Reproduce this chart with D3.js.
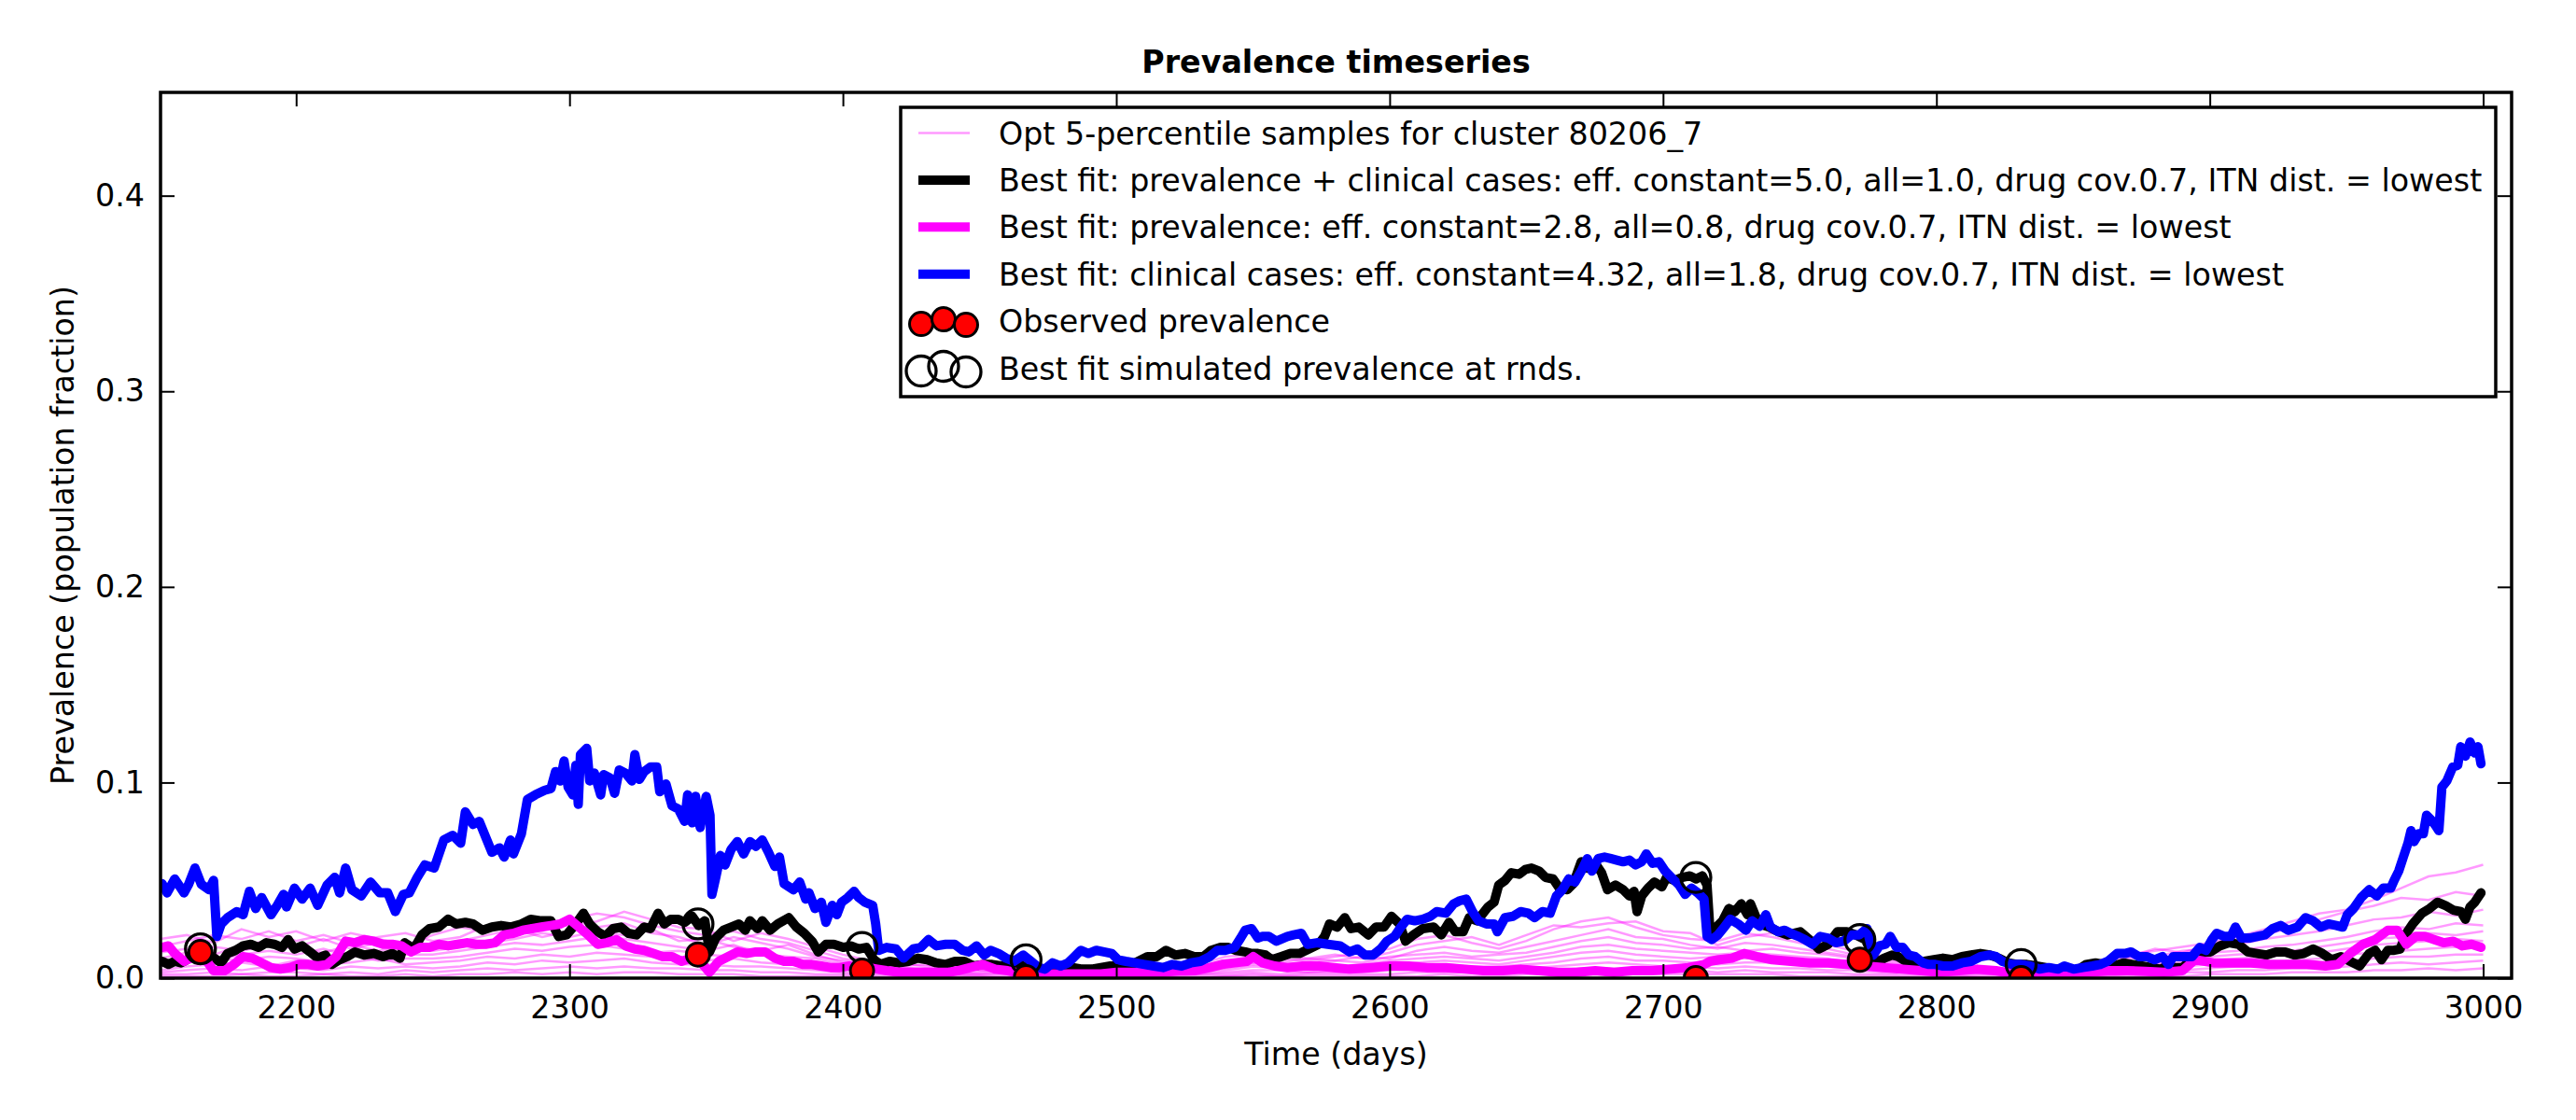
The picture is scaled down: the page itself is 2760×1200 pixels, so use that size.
<!DOCTYPE html>
<html>
<head>
<meta charset="UTF-8">
<title>Prevalence timeseries</title>
<script src="https://d3js.org/d3.v7.min.js"></script>
<style>
  body { margin: 0; background: #fff; }
  text { font-family: "DejaVu Sans", sans-serif; }
</style>
</head>
<body>
<svg id="chart" width="2760" height="1200"></svg>
<script>
// ---- data ----
// best fit: clinical cases (blue)
const clinicalFit = [[2151,0.0483],[2152.8,0.0436],[2155.6,0.0507],[2159,0.0436],[2160.7,0.048],[2163,0.0563],[2165.3,0.048],[2168.1,0.0452],[2169.8,0.05],[2171,0.0213],[2172.6,0.0277],[2174.9,0.0309],[2178.3,0.034],[2180.6,0.0324],[2182.9,0.0444],[2185.2,0.0356],[2187.4,0.0412],[2190.8,0.0324],[2193.1,0.0372],[2195.4,0.0428],[2196.5,0.0364],[2199.4,0.046],[2202.2,0.0404],[2205.1,0.046],[2207.9,0.0372],[2211.3,0.0476],[2214.1,0.0515],[2215.9,0.0436],[2218.1,0.0563],[2220.4,0.0452],[2223.8,0.042],[2227.2,0.0491],[2230.6,0.0436],[2233.5,0.0436],[2236.3,0.034],[2239.2,0.0428],[2241.4,0.0436],[2244.3,0.0515],[2247.1,0.0579],[2250.5,0.0563],[2254,0.0706],[2257.3,0.073],[2260.2,0.069],[2261.9,0.085],[2264.7,0.0786],[2267,0.0801],[2269.3,0.0722],[2271.6,0.0643],[2274.4,0.0666],[2276.1,0.0619],[2278.4,0.0706],[2279.5,0.0635],[2282.4,0.0738],[2284.6,0.0913],[2287.5,0.0937],[2290.9,0.096],[2293.2,0.0969],[2294.9,0.1056],[2296.6,0.1008],[2298,0.111],[2299.5,0.0976],[2301.2,0.0937],[2302.3,0.1088],[2303.2,0.0889],[2304,0.1143],[2306.3,0.1175],[2307.4,0.1008],[2309.1,0.1048],[2311.4,0.0937],[2312.5,0.104],[2314.8,0.1024],[2316.5,0.0945],[2318.2,0.1064],[2320.5,0.1048],[2322.8,0.1008],[2323.9,0.1143],[2325.6,0.1016],[2327.3,0.1056],[2329.6,0.108],[2331.9,0.108],[2333,0.0953],[2335.3,0.0992],[2337.5,0.0881],[2339.8,0.0865],[2342.1,0.0802],[2343.2,0.0937],[2344.9,0.0794],[2346.1,0.0929],[2347.8,0.077],[2350,0.0929],[2351.4,0.0833],[2352.1,0.0428],[2353.5,0.0515],[2355.2,0.0627],[2356.9,0.0579],[2359.1,0.0658],[2361.4,0.0698],[2363.7,0.0635],[2366,0.0698],[2368.2,0.0674],[2370.5,0.0706],[2372.8,0.0643],[2375.1,0.0571],[2376.8,0.0619],[2378.5,0.0483],[2381.9,0.0452],[2384.2,0.0491],[2386.4,0.0404],[2387.6,0.0436],[2389.8,0.0356],[2392.1,0.0388],[2393.8,0.0285],[2396.1,0.0372],[2397.8,0.0324],[2399.5,0.0388],[2401.8,0.0412],[2404.1,0.0444],[2405.8,0.0412],[2408,0.0388],[2410.9,0.0372],[2412,0.0277],[2413.1,0.0142],[2416,0.0157],[2419.4,0.0149],[2422.2,0.0102],[2425.7,0.0149],[2428.5,0.0157],[2431.3,0.0197],[2434.2,0.0165],[2437.6,0.0173],[2440.9,0.0173],[2443.8,0.0142],[2446.1,0.0134],[2448.9,0.0165],[2451.7,0.0118],[2454,0.0142],[2456.9,0.0126],[2459.7,0.0102],[2462.5,0.0086],[2466,0.0118],[2468.8,0.0086],[2471.6,0.0054],[2473.9,0.0046],[2476.7,0.0078],[2479.6,0.0062],[2482.4,0.0078],[2484.7,0.011],[2487,0.0142],[2489.8,0.0126],[2492.7,0.0142],[2495.5,0.0134],[2498.4,0.0126],[2500.6,0.0094],[2503.5,0.0086],[2506.9,0.0078],[2510.3,0.007],[2513.7,0.0062],[2517.1,0.0054],[2520.5,0.007],[2523.9,0.0062],[2527.3,0.0078],[2530.8,0.0086],[2534.2,0.011],[2537,0.0142],[2539.8,0.0142],[2543.3,0.0157],[2545.5,0.0205],[2547.2,0.0245],[2549.5,0.0253],[2551.8,0.0205],[2553.5,0.0213],[2555.8,0.0213],[2558.6,0.0189],[2562.6,0.0213],[2564.9,0.0221],[2567.7,0.0229],[2570,0.0173],[2573.4,0.0181],[2577.4,0.0173],[2581.9,0.0165],[2585.3,0.0134],[2588.2,0.0149],[2591,0.0118],[2593.9,0.0118],[2596.7,0.0149],[2599,0.0189],[2601.8,0.0213],[2604.1,0.0261],[2606.4,0.0301],[2609.2,0.0293],[2612.1,0.0301],[2614.9,0.0316],[2617.2,0.034],[2620.6,0.0332],[2623.4,0.038],[2625.7,0.0396],[2628,0.0404],[2630.3,0.034],[2632.5,0.0293],[2635.4,0.0277],[2638.2,0.0277],[2639.4,0.0237],[2642.2,0.0309],[2645.1,0.0316],[2647.9,0.034],[2650.7,0.0332],[2653,0.0309],[2655.9,0.034],[2658.7,0.0332],[2661,0.042],[2663.2,0.0452],[2665.5,0.0507],[2667.8,0.0491],[2670.1,0.0547],[2672.3,0.0611],[2674,0.0547],[2676.3,0.0611],[2678.6,0.0619],[2680.9,0.0611],[2683.1,0.0603],[2685.4,0.0595],[2687.7,0.0603],[2690,0.0579],[2692.2,0.0595],[2693.9,0.0635],[2696.2,0.0587],[2698.5,0.0595],[2700.8,0.0547],[2703.6,0.0507],[2705.9,0.0476],[2708.1,0.0428],[2710.4,0.046],[2712.7,0.0436],[2715,0.0404],[2716.1,0.0213],[2717.8,0.0197],[2720.1,0.0221],[2722.4,0.0261],[2724.6,0.0301],[2727.5,0.0277],[2730.3,0.0245],[2732.6,0.0293],[2735.4,0.0265],[2737.6,0.0324],[2739.3,0.0261],[2742.2,0.0237],[2744.5,0.0245],[2746.7,0.0229],[2749.6,0.0213],[2751.9,0.0197],[2754.7,0.0173],[2757.5,0.0213],[2760.4,0.0205],[2763.2,0.0181],[2766.1,0.0189],[2768.9,0.0221],[2771.8,0.0221],[2774.6,0.0253],[2776.9,0.0118],[2779.1,0.0165],[2781.4,0.0173],[2783.1,0.0213],[2785.4,0.0157],[2787.7,0.0157],[2789.9,0.0118],[2792.2,0.011],[2795.1,0.0078],[2797.3,0.007],[2799.6,0.007],[2802.4,0.0062],[2805.9,0.0062],[2809.3,0.0078],[2812.7,0.0086],[2816.1,0.011],[2819.5,0.0118],[2821.8,0.011],[2824.1,0.0086],[2827.5,0.007],[2830.9,0.007],[2834.3,0.0062],[2837.7,0.0046],[2841.1,0.0054],[2844.5,0.0046],[2846.8,0.0062],[2850.2,0.0046],[2853.6,0.0054],[2857,0.0062],[2859.9,0.007],[2862.7,0.0086],[2866.1,0.0126],[2869,0.0126],[2871.2,0.0134],[2874.1,0.011],[2876.9,0.011],[2879.8,0.0094],[2882.7,0.011],[2884.9,0.007],[2886.6,0.011],[2890,0.011],[2893.5,0.011],[2896.3,0.0157],[2898.6,0.0142],[2900.8,0.0197],[2902.5,0.0229],[2905.4,0.0213],[2907.7,0.0213],[2909.4,0.0261],[2911.6,0.0205],[2914.5,0.0205],[2917.3,0.0213],[2920.2,0.0221],[2923,0.0253],[2925.9,0.0269],[2928.7,0.0245],[2932.1,0.0261],[2935,0.0309],[2937.8,0.0293],[2940.6,0.0261],[2943.5,0.0277],[2946.3,0.0269],[2948.6,0.0261],[2950.3,0.0324],[2952.6,0.0356],[2955.4,0.0412],[2958.3,0.0452],[2961.1,0.042],[2963.4,0.046],[2966.2,0.046],[2967.4,0.0499],[2969.1,0.0547],[2970.8,0.0619],[2972.5,0.069],[2973.6,0.0754],[2974.7,0.0698],[2976.4,0.0738],[2978.1,0.0738],[2979.3,0.0833],[2981,0.0809],[2982.7,0.0778],[2983.8,0.0754],[2984.9,0.0976],[2986.7,0.1008],[2988.9,0.108],[2990.7,0.1088],[2991.8,0.1183],[2993.5,0.1135],[2995.2,0.1207],[2996.9,0.1151],[2998.1,0.1183],[2999.2,0.1096]];

// best fit: prevalence + clinical cases (black)
const combinedFit = [[2151,0.0086],[2153.3,0.007],[2155.6,0.0086],[2157.9,0.0078],[2160.1,0.0094],[2162.4,0.0118],[2165.3,0.0126],[2169.2,0.011],[2172.6,0.0078],[2174.9,0.0126],[2177.8,0.0142],[2180.6,0.0165],[2183.4,0.0173],[2186.3,0.0157],[2189.1,0.0181],[2192,0.0173],[2194.8,0.0157],[2197.1,0.0197],[2199.4,0.0149],[2202.2,0.0165],[2205.1,0.0134],[2207.9,0.0102],[2210.7,0.0118],[2213,0.007],[2215.9,0.0094],[2218.7,0.011],[2221.5,0.0134],[2224.9,0.0118],[2228.4,0.0126],[2231.8,0.011],[2235.2,0.0126],[2238,0.0102],[2239.7,0.0181],[2243.1,0.0149],[2246,0.0221],[2248.8,0.0253],[2252.2,0.0261],[2255.6,0.0301],[2258.5,0.0277],[2261.9,0.0285],[2264.7,0.0277],[2268.1,0.0245],[2271.6,0.0261],[2275,0.0269],[2278.4,0.0261],[2282.4,0.0277],[2285.8,0.0301],[2289.7,0.0293],[2293.2,0.0293],[2296,0.0213],[2298.9,0.0221],[2302.3,0.0277],[2305.1,0.0332],[2307.4,0.0277],[2310.3,0.0237],[2313.1,0.0213],[2315.9,0.0253],[2318.8,0.0261],[2321.6,0.0229],[2324.5,0.0221],[2327.3,0.0261],[2329.6,0.0253],[2332.4,0.0332],[2334.7,0.0277],[2337,0.0301],[2339.8,0.0301],[2342.1,0.0285],[2344.9,0.0316],[2347.2,0.0269],[2349.5,0.0293],[2351.2,0.0134],[2353.5,0.0205],[2356.3,0.0245],[2359.1,0.0261],[2362,0.0277],[2364.3,0.0245],[2366,0.0293],[2368.8,0.0253],[2370.5,0.0293],[2373.4,0.0245],[2376.2,0.0277],[2380.2,0.0309],[2383,0.0261],[2385.9,0.0229],[2388.7,0.0189],[2391,0.0134],[2393.8,0.0173],[2396.7,0.0173],[2400.1,0.0157],[2402.9,0.0165],[2405.8,0.0149],[2408.6,0.0157],[2411.4,0.0094],[2413.7,0.007],[2417.1,0.0086],[2420.5,0.0078],[2424,0.0086],[2427.4,0.0102],[2430.8,0.0094],[2434.2,0.0078],[2437.6,0.007],[2441,0.0086],[2444.4,0.0086],[2447.8,0.0062],[2451.2,0.007],[2454.6,0.007],[2458,0.0062],[2461.4,0.007],[2466,0.0062],[2470.5,0.0046],[2475,0.0038],[2479.6,0.0046],[2484.1,0.0054],[2487.5,0.0046],[2491,0.0046],[2494.4,0.0054],[2497.8,0.0062],[2501.2,0.0062],[2504.6,0.0062],[2508,0.0086],[2511.4,0.011],[2514.8,0.011],[2518.2,0.0142],[2521.7,0.0118],[2525.1,0.0126],[2528.5,0.011],[2531.9,0.011],[2534.7,0.0142],[2538.1,0.0157],[2541,0.0157],[2543.8,0.0142],[2547.2,0.0134],[2549.5,0.0126],[2551.8,0.0126],[2554.6,0.0118],[2556.9,0.0094],[2560.3,0.011],[2563.7,0.0126],[2567.1,0.0126],[2570.5,0.0149],[2574,0.0173],[2576.2,0.0213],[2578,0.0277],[2580.8,0.0261],[2583.6,0.0309],[2585.9,0.0253],[2588.7,0.0261],[2592.2,0.0221],[2595,0.0261],[2597.9,0.0261],[2600.7,0.0316],[2603.6,0.0277],[2605.8,0.0189],[2608.7,0.0221],[2612.1,0.0253],[2616.1,0.0261],[2618.9,0.0221],[2621.7,0.0285],[2624,0.0237],[2626.9,0.0237],[2629.1,0.0309],[2632,0.0293],[2636,0.0364],[2638.2,0.0388],[2639.9,0.0476],[2642.2,0.0499],[2644.5,0.0539],[2647.3,0.0531],[2649.6,0.0555],[2651.9,0.0563],[2654.7,0.0547],[2657,0.0515],[2659.8,0.0507],[2662.1,0.046],[2665,0.0452],[2667.2,0.0483],[2670.1,0.0595],[2672.3,0.0563],[2675.2,0.0587],[2677.5,0.0539],[2679.7,0.0452],[2682.6,0.0476],[2685.4,0.0452],[2687.7,0.042],[2689.4,0.0444],[2690.5,0.034],[2692.2,0.042],[2694.5,0.046],[2696.8,0.0491],[2699.6,0.0467],[2701.3,0.0515],[2704.2,0.0499],[2707,0.0515],[2709.8,0.0523],[2712.1,0.0507],[2714.4,0.0523],[2716.1,0.0476],[2717.2,0.0237],[2719.5,0.0261],[2721.8,0.0293],[2724.1,0.0356],[2726.3,0.034],[2728.6,0.038],[2730.9,0.0324],[2732,0.038],[2734.3,0.0301],[2735.4,0.0277],[2738.8,0.0261],[2742.2,0.0237],[2745.6,0.0221],[2750.2,0.0237],[2753.6,0.0197],[2757,0.0149],[2760.4,0.0173],[2763.8,0.0237],[2767.2,0.0237],[2770.6,0.0221],[2774,0.0197],[2778,0.0078],[2780.9,0.0102],[2783.7,0.0118],[2786,0.011],[2788.8,0.0086],[2792.2,0.007],[2795.6,0.0086],[2799.1,0.0094],[2802.4,0.0102],[2805.9,0.0094],[2809.3,0.011],[2812.7,0.0118],[2816.1,0.0126],[2819.5,0.0118],[2822.9,0.0102],[2826.3,0.0078],[2829.7,0.007],[2833.1,0.007],[2836.6,0.0062],[2840,0.0054],[2843.4,0.0046],[2846.8,0.0046],[2851.3,0.0038],[2854.7,0.007],[2858.2,0.0078],[2861.6,0.007],[2865,0.0062],[2868.4,0.0078],[2871.8,0.007],[2875.2,0.0062],[2878.6,0.0054],[2882,0.0046],[2883.2,0.0054],[2886.6,0.0054],[2890,0.0054],[2893.5,0.0094],[2896.9,0.0134],[2900.3,0.0134],[2903.7,0.0165],[2907.1,0.0181],[2910.5,0.0173],[2913.9,0.0134],[2917.3,0.0126],[2920.7,0.0118],[2924.2,0.0134],[2927.6,0.0134],[2931,0.0118],[2934.4,0.0126],[2937.8,0.0149],[2941.2,0.0126],[2944.6,0.0094],[2948,0.011],[2951.4,0.0086],[2954.8,0.0062],[2956.5,0.0094],[2958.3,0.0126],[2960.5,0.0142],[2962.8,0.0094],[2965.1,0.0142],[2967.4,0.0142],[2969.6,0.0149],[2971.9,0.0229],[2974.2,0.0277],[2977.6,0.0332],[2980.4,0.0356],[2983.3,0.0388],[2986.1,0.0372],[2989,0.0348],[2991.8,0.034],[2993.5,0.0301],[2995.2,0.0364],[2996.9,0.0388],[2999.2,0.0436]];

// best fit: prevalence (magenta)
const prevalenceFit = [[2151,0.0157],[2153.3,0.0165],[2155.6,0.0126],[2159,0.0086],[2162.4,0.011],[2167,0.0094],[2169.8,0.0038],[2173.8,0.0038],[2177.2,0.007],[2180.6,0.011],[2184,0.0102],[2187.4,0.0078],[2190.8,0.0054],[2194.2,0.0046],[2197.7,0.0054],[2201.1,0.007],[2204.5,0.007],[2207.9,0.0062],[2211.3,0.007],[2214.7,0.011],[2218.1,0.0189],[2221.5,0.0181],[2224.9,0.0197],[2228.4,0.0189],[2231.8,0.0173],[2235.2,0.0173],[2238.6,0.0165],[2242,0.0134],[2245.4,0.0157],[2248.8,0.0157],[2252.2,0.0173],[2255.6,0.0165],[2259,0.0173],[2262.5,0.0181],[2265.9,0.0173],[2269.3,0.0173],[2272.7,0.0181],[2276.1,0.0221],[2279.5,0.0229],[2282.9,0.0245],[2286.3,0.0253],[2289.7,0.0261],[2293.2,0.0269],[2296.6,0.0277],[2300,0.0301],[2303.4,0.0261],[2306.8,0.0221],[2310.3,0.0173],[2313.7,0.0181],[2317.1,0.0197],[2320.5,0.0165],[2323.9,0.0149],[2327.3,0.0142],[2330.7,0.0126],[2334.1,0.011],[2337.5,0.011],[2341,0.0086],[2344.4,0.0102],[2347.8,0.0086],[2351.2,0.003],[2354.6,0.0086],[2358,0.011],[2361.4,0.0134],[2364.8,0.0126],[2368.2,0.0134],[2371.6,0.0134],[2375.1,0.0102],[2378.5,0.0086],[2381.9,0.0086],[2385.3,0.007],[2388.7,0.007],[2392.1,0.0062],[2395.5,0.0054],[2398.9,0.0054],[2402.3,0.0062],[2405.8,0.0054],[2409.2,0.0054],[2412.6,0.0046],[2416,0.0038],[2420.5,0.003],[2425.1,0.003],[2429.6,0.003],[2434.2,0.003],[2438.7,0.003],[2442,0.0038],[2446.6,0.0054],[2451.2,0.007],[2455.7,0.0046],[2460.3,0.0038],[2466,0.0022],[2471.6,0.0022],[2477.3,0.0022],[2483,0.0022],[2488.7,0.0022],[2494.4,0.0022],[2500.1,0.003],[2505.7,0.003],[2511.4,0.003],[2517.1,0.003],[2522.8,0.0038],[2528.5,0.0038],[2534.2,0.0054],[2538.7,0.007],[2543.3,0.0078],[2547.8,0.0086],[2550.1,0.011],[2553.5,0.0078],[2558,0.0062],[2562.6,0.0054],[2568.3,0.0062],[2574,0.0062],[2579.6,0.0054],[2585.3,0.0046],[2593.3,0.0054],[2600.1,0.0062],[2607,0.0062],[2613.8,0.0054],[2620.6,0.0054],[2627.4,0.0046],[2634.3,0.0038],[2641.1,0.0038],[2647.9,0.0046],[2654.7,0.0038],[2661.5,0.003],[2668.4,0.003],[2675.2,0.0038],[2682,0.003],[2688.8,0.0038],[2695.6,0.0038],[2702.5,0.0046],[2709.3,0.0054],[2715,0.007],[2717.2,0.0086],[2720.6,0.0094],[2725.2,0.0102],[2729.7,0.0126],[2734.3,0.011],[2739.9,0.0094],[2746.7,0.0086],[2753.6,0.0078],[2760.4,0.0078],[2767.2,0.007],[2774,0.0062],[2780.9,0.0054],[2787.7,0.0046],[2794.5,0.0038],[2801.3,0.003],[2808.1,0.0038],[2815,0.0046],[2821.8,0.0038],[2828.6,0.0022],[2835.4,0.0022],[2842.2,0.0022],[2849.1,0.0022],[2855.9,0.003],[2862.7,0.0038],[2869.5,0.0038],[2876.4,0.0035],[2883.2,0.003],[2890,0.0038],[2894.6,0.0094],[2901.4,0.0078],[2908.2,0.0078],[2915.1,0.0078],[2921.9,0.007],[2928.7,0.007],[2935.5,0.007],[2942.3,0.0062],[2946.9,0.007],[2951.4,0.0126],[2956,0.0173],[2960.5,0.0197],[2965.1,0.0245],[2968.5,0.0245],[2971.9,0.0173],[2975.3,0.0213],[2978.7,0.0213],[2982.1,0.0197],[2985.5,0.0181],[2989,0.0189],[2992.4,0.0165],[2995.8,0.0173],[2999.2,0.0157]];

// opt 5-percentile samples, every 10 days from 2150 to 3000
const sampleDays = d3.range(2150, 3001, 10);
const samples = [
  [0.020,0.022,0.018,0.025,0.021,0.024,0.019,0.023,0.020,0.017, 0.022,0.026,0.024,0.028,0.025,0.030,0.033,0.031,0.027,0.024, 0.022,0.024,0.020,0.018,0.014,0.010,0.008,0.006,0.007,0.005, 0.006,0.004,0.005,0.003,0.004,0.005,0.004,0.006,0.007,0.011, 0.012,0.010,0.009,0.011,0.013,0.015,0.020,0.022,0.018,0.015, 0.019,0.025,0.029,0.031,0.026,0.022,0.020,0.019,0.023,0.021, 0.018,0.015,0.012,0.010,0.008,0.006,0.005,0.004,0.004,0.003, 0.005,0.008,0.012,0.014,0.016,0.018,0.021,0.025,0.029,0.033, 0.035,0.040,0.046,0.052,0.054,0.058],
  [0.016,0.019,0.022,0.020,0.024,0.019,0.022,0.018,0.021,0.023, 0.019,0.021,0.027,0.022,0.026,0.027,0.029,0.034,0.030,0.026, 0.025,0.019,0.023,0.020,0.016,0.012,0.009,0.008,0.006,0.007, 0.005,0.006,0.004,0.005,0.003,0.004,0.006,0.005,0.006,0.008, 0.010,0.012,0.010,0.012,0.010,0.013,0.017,0.019,0.021,0.017, 0.022,0.027,0.026,0.028,0.029,0.024,0.023,0.017,0.021,0.023, 0.020,0.017,0.014,0.011,0.009,0.007,0.006,0.005,0.005,0.004, 0.006,0.009,0.011,0.015,0.013,0.017,0.019,0.022,0.026,0.030, 0.034,0.037,0.041,0.040,0.044,0.042],
  [0.013,0.015,0.012,0.017,0.019,0.016,0.020,0.015,0.018,0.014, 0.017,0.019,0.022,0.025,0.021,0.024,0.026,0.028,0.023,0.021, 0.017,0.021,0.018,0.015,0.011,0.009,0.007,0.005,0.005,0.006, 0.004,0.005,0.003,0.004,0.004,0.003,0.005,0.004,0.005,0.007, 0.009,0.008,0.010,0.009,0.011,0.010,0.014,0.016,0.014,0.013, 0.016,0.019,0.022,0.025,0.021,0.020,0.017,0.015,0.018,0.017, 0.015,0.013,0.011,0.009,0.007,0.006,0.005,0.004,0.003,0.004, 0.005,0.007,0.010,0.011,0.014,0.015,0.017,0.020,0.022,0.024, 0.027,0.030,0.031,0.034,0.032,0.035],
  [0.010,0.013,0.016,0.014,0.017,0.015,0.013,0.017,0.014,0.016, 0.014,0.016,0.018,0.020,0.023,0.021,0.024,0.022,0.025,0.019, 0.020,0.016,0.014,0.017,0.012,0.008,0.006,0.006,0.004,0.005, 0.004,0.003,0.004,0.003,0.003,0.004,0.003,0.004,0.005,0.006, 0.008,0.007,0.008,0.009,0.008,0.011,0.012,0.013,0.011,0.012, 0.013,0.016,0.019,0.021,0.018,0.017,0.015,0.016,0.014,0.015, 0.013,0.012,0.010,0.008,0.006,0.005,0.004,0.004,0.003,0.003, 0.004,0.006,0.008,0.010,0.012,0.013,0.014,0.016,0.017,0.019, 0.021,0.024,0.026,0.025,0.028,0.027],
  [0.008,0.011,0.009,0.012,0.014,0.012,0.015,0.011,0.013,0.012, 0.012,0.014,0.016,0.018,0.017,0.019,0.021,0.020,0.018,0.016, 0.014,0.017,0.012,0.011,0.010,0.007,0.005,0.004,0.004,0.003, 0.003,0.004,0.003,0.003,0.002,0.003,0.004,0.003,0.004,0.005, 0.007,0.006,0.007,0.006,0.007,0.009,0.010,0.011,0.010,0.009, 0.011,0.013,0.016,0.017,0.015,0.014,0.013,0.012,0.013,0.012, 0.011,0.010,0.008,0.007,0.005,0.004,0.004,0.003,0.003,0.002, 0.003,0.005,0.007,0.008,0.010,0.011,0.012,0.013,0.014,0.016, 0.018,0.020,0.021,0.023,0.022,0.024],
  [0.006,0.008,0.010,0.009,0.011,0.010,0.008,0.012,0.009,0.010, 0.010,0.011,0.013,0.015,0.014,0.016,0.017,0.015,0.013,0.014, 0.012,0.011,0.013,0.009,0.008,0.006,0.004,0.004,0.003,0.003, 0.002,0.003,0.002,0.003,0.002,0.002,0.003,0.002,0.003,0.004, 0.006,0.005,0.005,0.006,0.006,0.007,0.008,0.009,0.008,0.007, 0.009,0.011,0.013,0.014,0.012,0.011,0.010,0.011,0.010,0.011, 0.009,0.008,0.007,0.006,0.004,0.004,0.003,0.002,0.002,0.002, 0.003,0.004,0.006,0.007,0.008,0.009,0.010,0.011,0.012,0.013, 0.015,0.017,0.018,0.019,0.020,0.019],
  [0.004,0.006,0.007,0.008,0.006,0.009,0.007,0.008,0.010,0.007, 0.008,0.009,0.011,0.010,0.012,0.011,0.013,0.012,0.011,0.010, 0.009,0.010,0.008,0.007,0.006,0.005,0.003,0.003,0.002,0.002, 0.002,0.002,0.001,0.002,0.002,0.001,0.002,0.002,0.002,0.003, 0.004,0.004,0.003,0.004,0.005,0.005,0.006,0.007,0.006,0.006, 0.007,0.008,0.010,0.011,0.009,0.009,0.008,0.007,0.008,0.008, 0.007,0.006,0.005,0.004,0.003,0.003,0.002,0.002,0.001,0.001, 0.002,0.003,0.004,0.005,0.006,0.007,0.008,0.008,0.009,0.010, 0.012,0.013,0.014,0.015,0.016,0.015],
  [0.003,0.004,0.005,0.004,0.006,0.005,0.004,0.006,0.005,0.006, 0.005,0.006,0.008,0.007,0.009,0.008,0.009,0.010,0.008,0.007, 0.007,0.006,0.006,0.005,0.004,0.003,0.002,0.002,0.001,0.002, 0.001,0.001,0.001,0.001,0.001,0.001,0.001,0.001,0.002,0.002, 0.003,0.002,0.003,0.003,0.003,0.004,0.004,0.005,0.004,0.004, 0.005,0.006,0.007,0.008,0.007,0.006,0.006,0.005,0.006,0.005, 0.005,0.004,0.004,0.003,0.002,0.002,0.001,0.001,0.001,0.001, 0.001,0.002,0.003,0.004,0.004,0.005,0.006,0.006,0.007,0.008, 0.009,0.010,0.011,0.011,0.012,0.012],
  [0.002,0.002,0.003,0.002,0.003,0.003,0.002,0.003,0.002,0.004, 0.003,0.004,0.005,0.004,0.005,0.006,0.005,0.006,0.005,0.005, 0.004,0.004,0.003,0.003,0.002,0.002,0.001,0.001,0.001,0.001, 0.001,0.000,0.001,0.000,0.001,0.000,0.001,0.001,0.001,0.001, 0.002,0.001,0.002,0.002,0.002,0.002,0.003,0.003,0.003,0.002, 0.003,0.004,0.005,0.005,0.004,0.004,0.004,0.003,0.004,0.003, 0.003,0.003,0.002,0.002,0.001,0.001,0.001,0.000,0.001,0.000, 0.001,0.001,0.002,0.002,0.003,0.003,0.004,0.004,0.005,0.005, 0.006,0.007,0.008,0.007,0.008,0.009],
  [0.001,0.001,0.001,0.002,0.001,0.001,0.002,0.001,0.001,0.002, 0.001,0.002,0.002,0.003,0.002,0.003,0.002,0.003,0.003,0.002, 0.002,0.002,0.001,0.001,0.001,0.001,0.000,0.000,0.000,0.000, 0.000,0.000,0.000,0.000,0.000,0.000,0.000,0.000,0.000,0.001, 0.001,0.001,0.001,0.001,0.001,0.001,0.001,0.002,0.001,0.001, 0.002,0.002,0.002,0.003,0.002,0.002,0.002,0.002,0.002,0.002, 0.001,0.001,0.001,0.001,0.000,0.000,0.000,0.000,0.000,0.000, 0.000,0.001,0.001,0.001,0.001,0.002,0.002,0.002,0.003,0.003, 0.003,0.004,0.004,0.005,0.004,0.005]
];

// observation rounds
const obsDays = [2165, 2347, 2407, 2467, 2712, 2772, 2831];
const obsPrevalence = [0.0134, 0.0121, 0.0038, 0.0005, 0.0, 0.0094, 0.0];
const simPrevalence = [0.015, 0.0277, 0.0157, 0.0094, 0.0515, 0.0197, 0.007];

const xTicks = [2200, 2300, 2400, 2500, 2600, 2700, 2800, 2900, 3000];
const yTicks = [0.0, 0.1, 0.2, 0.3, 0.4];

const legendLabels = [
  "Opt 5-percentile samples for cluster 80206_7",
  "Best fit: prevalence + clinical cases: eff. constant=5.0, all=1.0, drug cov.0.7, ITN dist. = lowest",
  "Best fit: prevalence: eff. constant=2.8, all=0.8, drug cov.0.7, ITN dist. = lowest",
  "Best fit: clinical cases: eff. constant=4.32, all=1.8, drug cov.0.7, ITN dist. = lowest",
  "Observed prevalence",
  "Best fit simulated prevalence at rnds."
];

// ---- drawing ----
const svg = d3.select("#chart");
const plot = {left: 172, right: 2691, top: 99, bottom: 1048};
const fontSize = 33.3;
const fitWidth = 10;

svg.append("rect").attr("width", 2760).attr("height", 1200).attr("fill", "#fff");

const x = d3.scaleLinear().domain([2150.4, 3010.4]).range([plot.left, plot.right]);
const y = d3.scaleLinear().domain([0, 0.4528]).range([plot.bottom, plot.top]);

svg.append("clipPath").attr("id", "clip")
  .append("rect")
  .attr("x", plot.left).attr("y", plot.top)
  .attr("width", plot.right - plot.left).attr("height", plot.bottom - plot.top);

const line = d3.line().x(d => x(d[0])).y(d => y(d[1]));
const data = svg.append("g").attr("clip-path", "url(#clip)");

// thin sample lines
data.selectAll("path.sample")
  .data(samples)
  .join("path")
  .attr("class", "sample")
  .attr("d", s => line(s.map((v, i) => [sampleDays[i], v])))
  .attr("fill", "none")
  .attr("stroke", "#ff00ff")
  .attr("stroke-opacity", 0.4)
  .attr("stroke-width", 2.5);

const fits = [
  {pts: combinedFit, color: "#000000"},
  {pts: prevalenceFit, color: "#ff00ff"},
  {pts: clinicalFit, color: "#0000ff"}
];
data.selectAll("path.fit")
  .data(fits)
  .join("path")
  .attr("class", "fit")
  .attr("d", f => line(f.pts))
  .attr("fill", "none")
  .attr("stroke", f => f.color)
  .attr("stroke-width", fitWidth)
  .attr("stroke-linejoin", "round")
  .attr("stroke-linecap", "round");

// simulated prevalence at rounds (open circles)
data.selectAll("circle.sim")
  .data(obsDays)
  .join("circle")
  .attr("class", "sim")
  .attr("cx", d => x(d))
  .attr("cy", (d, i) => y(simPrevalence[i]))
  .attr("r", 16)
  .attr("fill", "none")
  .attr("stroke", "#000")
  .attr("stroke-width", 3.3);

// observed prevalence (red dots)
data.selectAll("circle.obs")
  .data(obsDays)
  .join("circle")
  .attr("class", "obs")
  .attr("cx", d => x(d))
  .attr("cy", (d, i) => y(obsPrevalence[i]))
  .attr("r", 12.5)
  .attr("fill", "#ff0000")
  .attr("stroke", "#000")
  .attr("stroke-width", 3);

// axes with inward ticks on all four sides
const styleAxis = g => {
  g.select(".domain").remove();
  g.selectAll(".tick line").attr("stroke", "#000").attr("stroke-width", 2);
  g.selectAll(".tick text").attr("fill", "#000")
    .attr("font-size", fontSize).attr("font-family", "DejaVu Sans, sans-serif");
};
svg.append("g").attr("transform", `translate(0,${plot.bottom})`)
  .call(d3.axisBottom(x).tickValues(xTicks).tickFormat(d3.format("d")).tickSize(-15).tickPadding(19))
  .call(styleAxis);
svg.append("g").attr("transform", `translate(0,${plot.top})`)
  .call(d3.axisTop(x).tickValues(xTicks).tickFormat("").tickSize(-15))
  .call(styleAxis);
svg.append("g").attr("transform", `translate(${plot.left},0)`)
  .call(d3.axisLeft(y).tickValues(yTicks).tickFormat(d3.format(".1f")).tickSize(-15).tickPadding(17))
  .call(styleAxis);
svg.append("g").attr("transform", `translate(${plot.right},0)`)
  .call(d3.axisRight(y).tickValues(yTicks).tickFormat("").tickSize(-15))
  .call(styleAxis);

svg.append("rect")
  .attr("x", plot.left).attr("y", plot.top)
  .attr("width", plot.right - plot.left).attr("height", plot.bottom - plot.top)
  .attr("fill", "none").attr("stroke", "#000").attr("stroke-width", 3.5);

// titles
const midX = (plot.left + plot.right) / 2;
svg.append("text").attr("x", midX).attr("y", 78)
  .attr("text-anchor", "middle").attr("font-size", fontSize).attr("font-weight", "bold")
  .text("Prevalence timeseries");
svg.append("text").attr("x", midX).attr("y", 1141)
  .attr("text-anchor", "middle").attr("font-size", fontSize)
  .text("Time (days)");
svg.append("text")
  .attr("transform", `translate(79,${(plot.top + plot.bottom) / 2}) rotate(-90)`)
  .attr("text-anchor", "middle").attr("font-size", fontSize)
  .text("Prevalence (population fraction)");

// legend
const leg = svg.append("g");
leg.append("rect").attr("x", 965).attr("y", 115).attr("width", 1709).attr("height", 310)
  .attr("fill", "#fff").attr("stroke", "#000").attr("stroke-width", 3.5);
const rowY = i => 142.5 + i * 50.4;
const handleX0 = 984, handleX1 = 1039;

leg.append("line").attr("x1", handleX0).attr("x2", handleX1).attr("y1", rowY(0)).attr("y2", rowY(0))
  .attr("stroke", "#ff00ff").attr("stroke-opacity", 0.4).attr("stroke-width", 2.5);
fits.forEach((f, i) => {
  leg.append("line").attr("x1", handleX0).attr("x2", handleX1)
    .attr("y1", rowY(i + 1)).attr("y2", rowY(i + 1))
    .attr("stroke", f.color).attr("stroke-width", fitWidth);
});
const markerDx = [-24, 0, 24];
const markerDy = [3, -2, 4];
markerDx.forEach((dx, k) => {
  leg.append("circle").attr("cx", 1011 + dx).attr("cy", rowY(4) + markerDy[k]).attr("r", 12.5)
    .attr("fill", "#ff0000").attr("stroke", "#000").attr("stroke-width", 3);
});
markerDx.forEach((dx, k) => {
  leg.append("circle").attr("cx", 1011 + dx).attr("cy", rowY(5) + markerDy[k]).attr("r", 16)
    .attr("fill", "none").attr("stroke", "#000").attr("stroke-width", 3.3);
});
leg.selectAll("text")
  .data(legendLabels)
  .join("text")
  .attr("x", 1070)
  .attr("y", (d, i) => rowY(i) + 12)
  .attr("font-size", fontSize)
  .text(d => d);
</script>
</body>
</html>
